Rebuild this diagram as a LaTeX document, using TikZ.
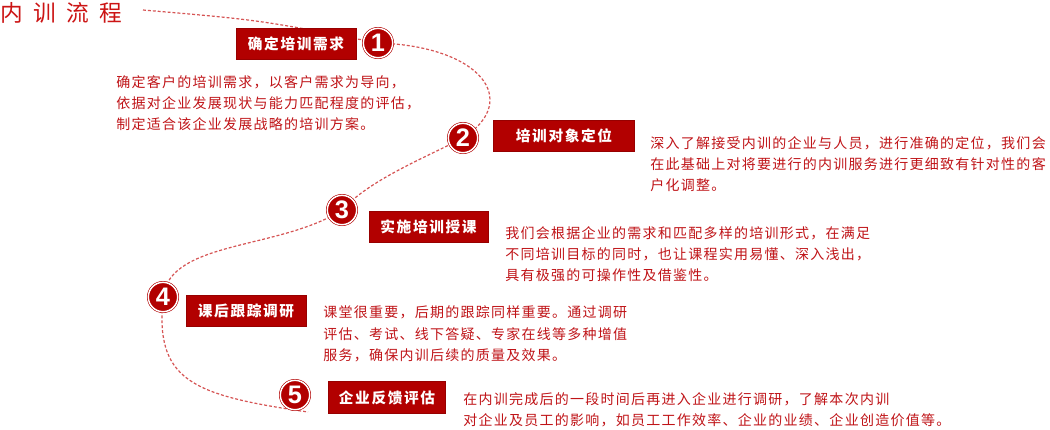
\documentclass[tikz,border=0pt]{standalone}
\usepackage{fontspec}
\setmainfont{Liberation Sans}
\newfontfamily\cjk{Noto Sans CJK SC}[LetterSpace=9]
\newfontfamily\cjkbox{Noto Sans CJK SC}[LetterSpace=11]
\newfontfamily\cjktitle{Noto Sans CJK SC}[LetterSpace=46]
\usetikzlibrary{backgrounds}

\definecolor{boxred}{RGB}{178,0,0}
\definecolor{txtred}{RGB}{192,20,24}
\definecolor{titlered}{RGB}{204,20,20}
\definecolor{dashred}{RGB}{214,84,84}

\begin{document}
\begin{tikzpicture}[x=0.75pt,y=-0.75pt,
  stepbox/.style={fill=boxred, draw=boxred!85!black, line width=0.4pt, text=white,
    minimum height=23pt, inner sep=0pt,
    font=\cjkbox\bfseries\fontsize{11pt}{12pt}\selectfont},
  numdot/.style={circle, fill=boxred, draw=boxred, double=white, double distance=1.1pt,
    line width=0.45pt, minimum size=22pt, inner sep=0pt, text=white,
    font=\bfseries\fontsize{19pt}{19pt}\selectfont},
  desc/.style={anchor=west, align=left, inner sep=0pt, text=txtred,
    font=\cjk\fontsize{10.5pt}{16pt}\selectfont},
  flow/.style={draw=dashred, dash pattern=on 2.2pt off 1.5pt, line width=0.9pt}]
  \useasboundingbox (0,0) rectangle (1050,429);

  % Title
  \node[anchor=west, inner sep=0pt, text=titlered,
    font=\cjktitle\fontsize{17pt}{18pt}\selectfont] (title) at (0,13) {内训流程};
  \coordinate (t0) at (143,10);

  % Steps
  \node[stepbox, minimum width=90pt] (b1) at (296,43.5) {确定培训需求};
  \node[numdot] (n1) at (378,43) {1};
  \node[desc] (d1) at (116,103) {确定客户的培训需求，以客户需求为导向，\\依据对企业发展现状与能力匹配程度的评估，\\制定适合该企业发展战略的培训方案。};

  \node[stepbox, minimum width=106pt] (b2) at (564,136) {培训对象定位};
  \node[numdot] (n2) at (463,138) {2};
  \node[desc] (d2) at (650,164) {深入了解接受内训的企业与人员，进行准确的定位，我们会\\在此基础上对将要进行的内训服务进行更细致有针对性的客\\户化调整。};

  \node[stepbox, minimum width=89pt] (b3) at (428.5,226.5) {实施培训授课};
  \node[numdot] (n3) at (342,210) {3};
  \node[desc] (d3) at (505,254) {我们会根据企业的需求和匹配多样的培训形式，在满足\\不同培训目标的同时，也让课程实用易懂、深入浅出，\\具有极强的可操作性及借鉴性。};

  \node[stepbox, minimum width=90pt] (b4) at (246,311) {课后跟踪调研};
  \node[numdot] (n4) at (163,297) {4};
  \node[desc] (d4) at (323,334) {课堂很重要，后期的跟踪同样重要。通过调研\\评估、考试、线下答疑、专家在线等多种增值\\服务，确保内训后续的质量及效果。};

  \node[stepbox, minimum width=88pt, minimum height=24pt] (b5) at (387,397.5) {企业反馈评估};
  \node[numdot] (n5) at (295,395) {5};
  \node[desc] (d5) at (463,410) {在内训完成后的一段时间后再进入企业进行调研，了解本次内训\\对企业及员工的影响，如员工工作效率、企业的业绩、企业创造价值等。};
  \coordinate (e5) at ([shift={(13,17)}]n5.center);

  % Dashed route behind the steps
  \begin{scope}[on background layer]
    \fill[white] (0,0) rectangle (1050,429);
    \draw[flow] (t0) .. controls (260,20) .. (n1.center)
      .. controls (480,46) and (522,100) .. (n2.center)
      .. controls (420,160) and (370,180) .. (n3.center)
      .. controls (280,250) and (170,240) .. (n4.center)
      .. controls (155,380) and (190,395) .. (e5);
  \end{scope}
\end{tikzpicture}
\end{document}
